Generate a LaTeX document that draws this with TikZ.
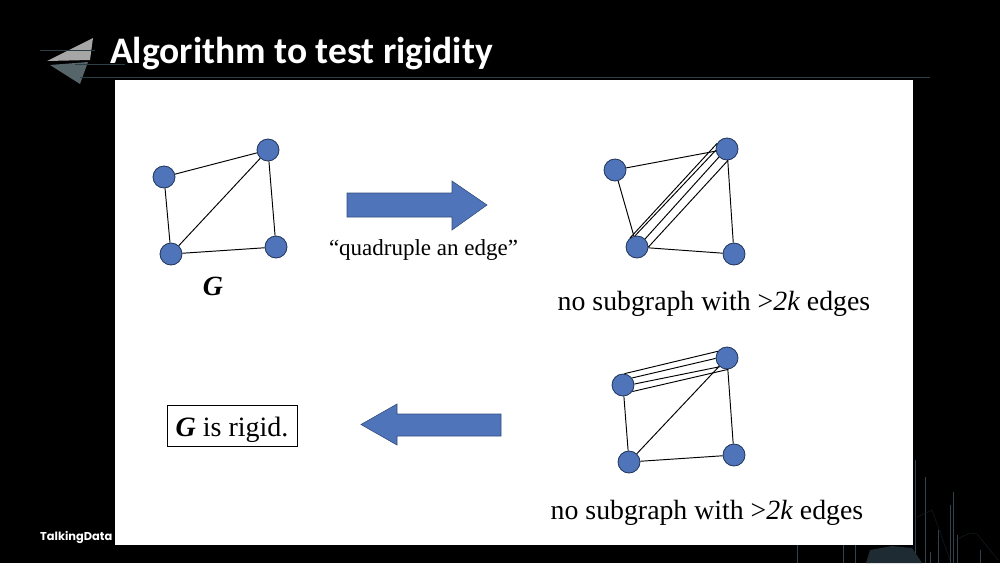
\documentclass[tikz,border=0pt]{standalone}
\usepackage{fontspec}
\setmainfont{Liberation Serif}
\newfontfamily\titlefont{Carlito}
\newfontfamily\logofont{Poppins}
\definecolor{vertexblue}{HTML}{4F74B9}
\definecolor{vertexline}{HTML}{1F3358}
\definecolor{rulegrey}{HTML}{2B3E45}
\definecolor{skyline}{HTML}{2F424D}
\tikzset{
	vertex/.style={circle, draw=vertexline, fill=vertexblue, line width=0.8pt, minimum size=22pt, inner sep=0pt},
	edge/.style={black, line width=0.95pt},
	label/.style={inner sep=0pt, font=\fontsize{27.8}{28}\selectfont},
	bigarrow/.style={fill=vertexblue, draw=vertexline!60!vertexblue, line width=0.6pt},
	skybar/.style={skyline, line width=1pt},
	netline/.style={skyline!50!black, line width=0.4pt},
}
\begin{document}
\begin{tikzpicture}[x=1pt, y=-1pt]
	\useasboundingbox (0,0) rectangle (1000,563);
	\fill[black] (0,0) rectangle (1000,563);

	% header
	\fill[gray!70] (47,61) -- (93,38) -- (90,60) -- cycle;
	\fill[rulegrey!80] (50,65) -- (88,62) -- (80,84) -- cycle;
	\draw[rulegrey, line width=0.6pt] (40,50) -- (95,50);
	\draw[rulegrey, line width=0.6pt] (75,64) -- (125,64);
	\draw[rulegrey, line width=0.8pt] (80,77) -- (930,77);
	\node[anchor=base west, inner sep=0pt, text=white] (title) at (110,63)
		{\titlefont\bfseries\fontsize{37.5}{38}\selectfont Algorithm to test rigidity};
	\node[anchor=base west, inner sep=0pt, text=white] (brand) at (40,540)
		{\logofont\fontsize{11.4}{12}\selectfont\bfseries TalkingData};

	% skyline
	\foreach \x/\y in {797/545, 843/545, 855/545, 915/460, 925/477, 930/552, 938/530, 950/505, 953/492, 957/535, 980/550}
		\draw[skybar] (\x,\y) -- (\x,563);
	\fill[skyline!65!black] (866,563) -- (870,550) -- (892,546) -- (912,548) -- (922,563) -- cycle;
	\draw[netline] (915,518) -- (932,510) -- (950,560);
	\draw[netline] (955,540) -- (970,533) -- (977,534) -- (998,560);

	% slide
	\fill[white] (115,80) rectangle (913,545);

	% G
	\node[vertex] (a1) at (164,177) {};
	\node[vertex] (b1) at (268,150) {};
	\node[vertex] (c1) at (171,254) {};
	\node[vertex] (d1) at (276,247) {};
	\draw[edge] (a1) -- (b1);
	\draw[edge] (a1) -- (c1);
	\draw[edge] (b1) -- (c1);
	\draw[edge] (b1) -- (d1);
	\draw[edge] (c1) -- (d1);
	\node[label] (gname) at (213,286) {\textbf{\textit{G}}};

	% quadrupled diagonal
	\node[vertex] (a2) at (615,170) {};
	\node[vertex] (b2) at (727,149) {};
	\node[vertex] (c2) at (637,247) {};
	\node[vertex] (d2) at (734,254) {};
	\draw[edge] (a2) -- (b2);
	\draw[edge] (a2) -- (c2);
	\draw[edge] (b2) -- (d2);
	\draw[edge] (c2) -- (d2);
	\draw[edge] (c2.128) -- (b2.151);
	\draw[edge] (c2.100) -- (b2.187);
	\draw[edge] (c2.45) -- (b2.225);
	\draw[edge] (c2.0) -- (b2.-85);
	\node[label] (count2) at (714,303.5) {no subgraph with >\textit{2k} edges};

	% quadrupled top edge
	\node[vertex] (a3) at (623,385) {};
	\node[vertex] (b3) at (727,358) {};
	\node[vertex] (c3) at (629,462) {};
	\node[vertex] (d3) at (734,455) {};
	\draw[edge] (a3) -- (c3);
	\draw[edge] (b3) -- (c3);
	\draw[edge] (b3) -- (d3);
	\draw[edge] (c3) -- (d3);
	\draw[edge] (a3.83) -- (b3.144);
	\draw[edge] (a3.38) -- (b3.182);
	\draw[edge] (a3.5) -- (b3.-130);
	\draw[edge] (a3.-35) -- (b3.-83);
	\node[label] (count3) at (707,512.5) {no subgraph with >\textit{2k} edges};

	% block arrows
	\draw[bigarrow] (347,193) -- (452,193) -- (452,181) -- (487,205) -- (452,230) -- (452,217) -- (347,217) -- cycle;
	\draw[bigarrow] (501,414) -- (397,414) -- (397,404) -- (361,424.5) -- (397,445) -- (397,436) -- (501,436) -- cycle;
	\node[label, font=\fontsize{23}{23}\selectfont] (quad) at (423.5,249.5) {“quadruple an edge”};

	\node[draw=black, line width=0.9pt, minimum width=130pt, minimum height=41pt, inner sep=0pt, text height=24pt, text depth=3pt, font=\fontsize{28}{28}\selectfont] (rigid) at (232,425.5) {\textbf{\textit{G}} is rigid.};
\end{tikzpicture}
\end{document}
